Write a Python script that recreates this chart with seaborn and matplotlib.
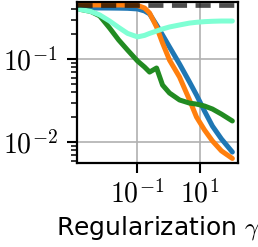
import numpy as np
import pandas as pd
import matplotlib
matplotlib.use("Agg")
import matplotlib.pyplot as plt
import seaborn as sns
from matplotlib.ticker import FuncFormatter, NullLocator, LogLocator, NullFormatter

# ---------------------
# data
# ---------------------
gamma = [0.00142, 0.00318, 0.0062, 0.0129, 0.0252, 0.0489, 0.102, 0.171, 0.248, 0.416,
         0.647, 1.08, 2.27, 4.75, 7.96, 14.4, 25.9, 50.3, 113]
blue_vals = [0.415, 0.415, 0.415, 0.414, 0.413, 0.411, 0.404, 0.382, 0.352, 0.259,
             0.196, 0.141, 0.0878, 0.0533, 0.0372, 0.0238, 0.0157, 0.0110, 0.00764]
orange_vals = [0.451, 0.451, 0.451, 0.451, 0.451, 0.449, 0.445, 0.415, 0.361, 0.245,
               0.157, 0.098, 0.0612, 0.0324, 0.0202, 0.0141, 0.0104, 0.0079, 0.0064]
green_vals = [0.400, 0.377, 0.333, 0.238, 0.171, 0.129, 0.0953, 0.0807, 0.0702, 0.0786,
              0.049, 0.0393, 0.0324, 0.0297, 0.0289, 0.0274, 0.0252, 0.0219, 0.0181]
aqua_vals = [0.400, 0.377, 0.342, 0.289, 0.242, 0.205, 0.186, 0.194, 0.205, 0.219,
             0.232, 0.245, 0.259, 0.273, 0.279, 0.284, 0.287, 0.289, 0.289]
baseline = 0.45

series = [
    (blue_vals, "#1f77b4"),
    (orange_vals, "#ff7f0e"),
    (green_vals, "forestgreen"),
    (aqua_vals, "aquamarine"),
]

sns.set_style("ticks")
plt.rcParams["mathtext.fontset"] = "cm"
plt.rcParams["font.family"] = ["DejaVu Sans"]
for k in ["text.color", "axes.labelcolor", "xtick.color", "ytick.color"]:
    plt.rcParams[k] = "black"

fig, ax = plt.subplots(figsize=(2.58, 2.47), dpi=100)
fig.subplots_adjust(left=0.298, right=0.922, top=0.992, bottom=0.341)

for ys, col in series:
    df = pd.DataFrame({"gamma": gamma, "val": ys})
    sns.lineplot(data=df, x="gamma", y="val", color=col, lw=3.6, ax=ax)
ax.axhline(baseline, color="black", alpha=0.7, lw=3.4, dashes=(3.2, 1.8), zorder=5)

ax.set_xscale("log")
ax.set_yscale("log")
ax.set_xlim(10 ** -2.94, 10 ** 2.23)
ax.set_ylim(0.00568, 0.49)

pow_fmt = FuncFormatter(lambda v, p: r"$10^{%d}$" % round(np.log10(v)))
ax.set_xticks([1e-1, 1e1])
ax.xaxis.set_major_formatter(pow_fmt)
ax.xaxis.set_minor_locator(NullLocator())
ax.yaxis.set_major_locator(LogLocator(base=10))
ax.yaxis.set_major_formatter(pow_fmt)
ax.yaxis.set_minor_locator(LogLocator(base=10, subs=np.arange(2, 10)))
ax.yaxis.set_minor_formatter(NullFormatter())

ax.grid(True, which="major", color="#b0b0b0", lw=1.2)
ax.tick_params(which="major", direction="out", length=7, width=1.5)
ax.tick_params(which="minor", direction="out", length=4.5, width=1.1)
ax.tick_params(axis="y", which="major", labelsize=20, pad=7)
ax.tick_params(axis="x", which="major", labelsize=20, pad=5)
for sp in ax.spines.values():
    sp.set_linewidth(1.6)
    sp.set_color("black")

ax.set_xlabel(r"Regularization $\gamma$", fontsize=18, labelpad=4)
ax.set_ylabel("")

fig.savefig("out.png", dpi=100)
